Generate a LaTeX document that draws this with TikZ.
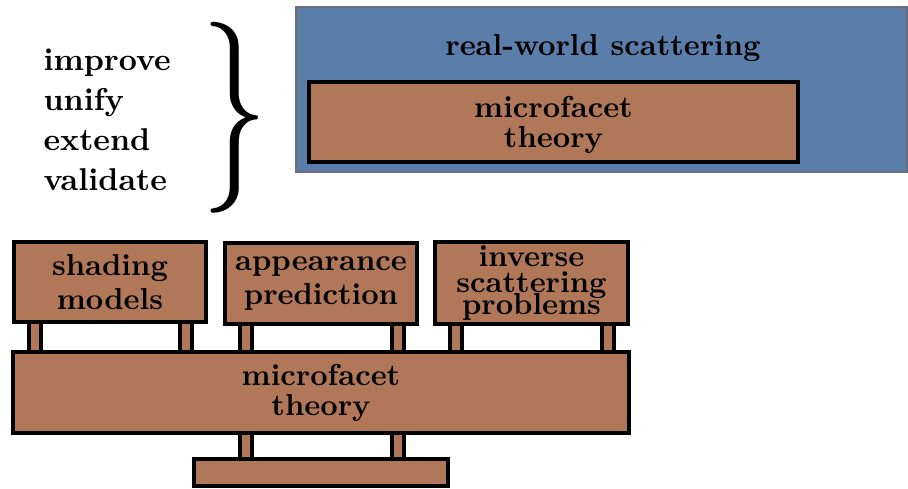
\documentclass[tikz,border=0pt]{standalone}
\usepackage{tikz}
\usepackage{graphicx}
\usetikzlibrary{positioning, shapes}
\usepackage{xcolor}

\definecolor{facetbrown}{RGB}{176,119,88}
\definecolor{worldblue}{RGB}{91,125,170}
\definecolor{worldedge}{RGB}{105,110,120}

\tikzset{
    brownbox/.style={draw=black, line width=1.3pt, fill=facetbrown, rectangle, inner sep=0pt, align=center},
    legbox/.style={draw=black, line width=1.3pt, fill=facetbrown},
    labeltext/.style={font=\fontsize{10}{9.9}\selectfont\bfseries},
}

\begin{document}
\begin{tikzpicture}[x=0.33pt, y=-0.33pt]
    \useasboundingbox (0, 0) rectangle (908, 488);

    % Goals on the left
    \foreach \word/\ypos in {improve/70, unify/110, extend/150, validate/190}
        \node[anchor=base west, inner sep=0pt, font=\fontsize{10.4}{12}\selectfont\bfseries] (goal-\word) at (43, \ypos) {\word};

    % Big curly brace
    \node[inner sep=0pt] (brace) at (235, 118) {\resizebox*{22pt}{63pt}{$\}$}};

    % Real-world scattering (blue box)
    \draw[draw=worldedge, line width=0.66pt, fill=worldblue] (296, 7) rectangle (907, 172);
    \node[labeltext, anchor=base] (world) at (603, 55) {real-world scattering};
    \node[brownbox, minimum width=489*0.33pt, minimum height=80*0.33pt] (topfacet) at (553.5, 122) {};
    \node[labeltext, align=center] (topfacet-text) at (553.5, 124.5) {microfacet\\theory};

    % Legs between the boxes (drawn first, the boxes sit on top)
    \draw[legbox] (29, 322) rectangle (41, 352);
    \draw[legbox] (180, 322) rectangle (192, 352);
    \draw[legbox] (240, 322) rectangle (252, 352);
    \draw[legbox] (392, 322) rectangle (404, 352);
    \draw[legbox] (450, 322) rectangle (462, 352);
    \draw[legbox] (602, 322) rectangle (614, 352);
    \draw[legbox] (240, 431) rectangle (252, 461); % lower legs
    \draw[legbox] (392, 431) rectangle (404, 461);

    % Applications on top
    \node[brownbox, font=\fontsize{10}{11.5}\selectfont\bfseries, minimum width=192*0.33pt, minimum height=80*0.33pt] (shading) at (110, 282) {shading\\models};
    \node[brownbox, font=\fontsize{10}{11.3}\selectfont\bfseries, minimum width=192*0.33pt, minimum height=81*0.33pt] (appearance) at (321, 283.5) {appearance\\prediction};
    \node[brownbox, font=\fontsize{10}{10}\selectfont\bfseries, minimum width=193*0.33pt, minimum height=82*0.33pt] (inverse) at (531.5, 283) {inverse\\[-1.4pt]scattering\\[-2.6pt]problems};

    % Microfacet theory platform and base
    \node[brownbox, labeltext, minimum width=616*0.33pt, minimum height=81*0.33pt] (facet) at (321, 392.5) {microfacet\\theory};
    \node[brownbox, minimum width=254*0.33pt, minimum height=27*0.33pt] (base) at (321, 472.5) {};
\end{tikzpicture}
\end{document}
